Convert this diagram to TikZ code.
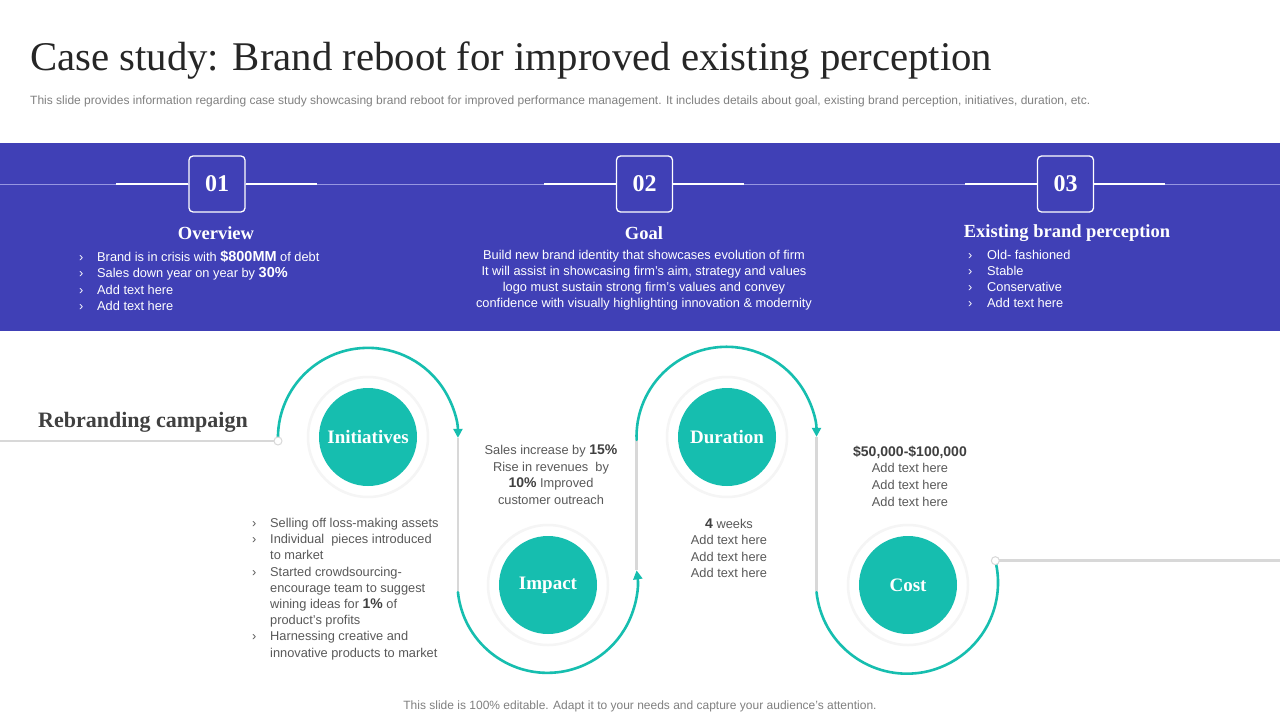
\documentclass[tikz,border=0pt]{standalone}
\usepackage{fontspec}
\setmainfont{Liberation Sans}
\newfontfamily\serifface{Liberation Serif}
\usetikzlibrary{arrows.meta,calc}
\definecolor{band}{RGB}{64,64,182}
\definecolor{tealc}{RGB}{22,190,175}
\definecolor{txt}{RGB}{89,89,89}
\definecolor{darktxt}{RGB}{64,64,64}
\definecolor{titlec}{RGB}{38,38,38}
\definecolor{ringc}{RGB}{245,245,245}
\definecolor{linec}{RGB}{216,216,216}
\definecolor{lav}{RGB}{150,150,225}
\definecolor{subgray}{RGB}{128,128,128}
\newcommand\myfs[1]{\fontsize{#1}{#1}\selectfont}
\tikzset{
  ln/.style={anchor=base west, inner sep=0, font=\myfs{12.8}},
  lnc/.style={anchor=base, inner sep=0, font=\myfs{12.8}},
  numbox/.style={draw=white, line width=1.3, rounded corners=4, fill=band, minimum size=56, inner sep=0, text=white, font=\serifface\bfseries\myfs{24}},
  head/.style={inner sep=0, text=white, font=\serifface\bfseries\myfs{18.5}},
  ring/.style={circle, draw=ringc, line width=2.5, minimum size=120, inner sep=0},
  disc/.style={circle, fill=tealc, minimum size=98, inner sep=0, text=white, font=\serifface\bfseries\myfs{19}},
  arcline/.style={draw=tealc, line width=2.6, line cap=round},
  arcarrow/.style={arcline, -{Triangle[length=9,width=9]}},
  gline/.style={draw=linec, line width=2.6},
  enddot/.style={circle, draw=linec, fill=white, line width=1, minimum size=8, inner sep=0},
}
\begin{document}
\begin{tikzpicture}[x=1pt,y=-1pt]
\useasboundingbox (0,0) rectangle (1280,720);
\fill[white] (0,0) rectangle (1280,720);

% title and subtitle
\node[anchor=base west, inner sep=0, text=titlec] (title) at (30,70)
  {\resizebox{962pt}{!}{\serifface\myfs{40}Case study: Brand reboot for improved existing perception}};
\node[anchor=base west, inner sep=0, text=subgray] (subtitle) at (30,104)
  {\resizebox{1060pt}{!}{\myfs{11}This slide provides information regarding case study showcasing brand reboot for improved performance management. It includes details about goal, existing brand perception, initiatives, duration, etc.}};

% blue band
\fill[band] (0,143) rectangle (1280,331);
\coordinate (bandl) at (0,184); \coordinate (bandr) at (1280,184);
\draw[lav, line width=0.8] (bandl) -- (bandr);

\node[numbox] (b1) at (217,184) {01};
\node[numbox] (b2) at (644.5,184) {02};
\node[numbox] (b3) at (1065.5,184) {03};
\coordinate (w1l) at (116,184); \coordinate (w1r) at (317,184);
\coordinate (w2l) at (544,184); \coordinate (w2r) at (744,184);
\coordinate (w3l) at (965,184); \coordinate (w3r) at (1165,184);
\draw[white, line width=2.5] (w1l) -- (b1.west) (b1.east) -- (w1r);
\draw[white, line width=2.5] (w2l) -- (b2.west) (b2.east) -- (w2r);
\draw[white, line width=2.5] (w3l) -- (b3.west) (b3.east) -- (w3r);

\node[head] (h1) at (216,233) {Overview};
\node[head] (h2) at (644,233) {Goal};
\node[head] (h3) at (1067,233) {Existing brand perception};

\foreach \t [count=\i] in {{Brand is in crisis with \textbf{\myfs{14.5}\$800MM} of debt},{Sales down year on year by \textbf{\myfs{14.5}30\%}},Add text here,Add text here}{
  \node[ln, text=white] (ovb\i) at (79,{261+16.6*(\i-1)}) {›};
  \node[ln, text=white] (ov\i) at (97,{261+16.6*(\i-1)}) {\t};
}
\foreach \t [count=\i] in {Build new brand identity that showcases evolution of firm,{It will assist in showcasing firm’s aim, strategy and values},logo must sustain strong firm’s values and convey,confidence with visually highlighting innovation \& modernity}{
  \node[lnc, text=white] (go\i) at (644,{259.5+16*(\i-1)}) {\t};
}
\foreach \t [count=\i] in {Old- fashioned,Stable,Conservative,Add text here}{
  \node[ln, text=white] (exb\i) at (968,{259.5+16*(\i-1)}) {›};
  \node[ln, text=white] (ex\i) at (987,{259.5+16*(\i-1)}) {\t};
}

% rebranding campaign
\node[inner sep=0, text=darktxt, font=\serifface\bfseries\myfs{22}] (rb) at (143,422) {Rebranding campaign};

% wave geometry
\coordinate (d1) at (278,441);
\path (d1) arc[start angle=178, end angle=360, radius=90] coordinate (e1);
\path (e1) ++(0,154.4) coordinate (s2);
\path (s2) arc[start angle=174, end angle=-8, radius=90] coordinate (e2);
\path (e2) ++(0,-130.4) coordinate (s3);
\path (s3) arc[start angle=178, end angle=360, radius=90] coordinate (e3);
\path (e3) ++(0,155.4) coordinate (s4);
\path (s4) arc[start angle=174, end angle=-14, radius=91] coordinate (e4);
\coordinate (rend) at (1280,562);
\coordinate (lend) at (0,441);

\draw[gline] (lend) -- (d1);
\draw[gline] (e1) -- (s2);
\draw[gline] (e2) -- (s3);
\draw[gline] (e3) -- (s4);
\draw[gline] (e4) -- (e4 -| rend);

\draw[arcarrow] (d1) arc[start angle=178, end angle=360, radius=90];
\draw[arcarrow] (s2) arc[start angle=174, end angle=-8, radius=90];
\draw[arcarrow] (s3) arc[start angle=178, end angle=360, radius=90];
\draw[arcline] (s4) arc[start angle=174, end angle=-14, radius=91];

\node[enddot] (dot1) at (d1) {};
\node[enddot] (dot2) at (e4) {};

% circles
\node[ring] (r1) at (368,437) {};
\node[disc] (ini) at (368,437) {Initiatives};
\node[ring] (r2) at (548,585) {};
\node[disc] (imp) at (548,585) {Impact};
\node[ring] (r3) at (727,437) {};
\node[disc] (dur) at (727,437) {Duration};
\node[ring] (r4) at (908,585) {};
\node[disc] (cost) at (908,585) {Cost};

% initiatives list
\foreach \t [count=\i] in {Selling off loss-making assets,Individual\ \ pieces introduced,to market,Started crowdsourcing-,encourage team to suggest,{wining ideas for \textbf{\color{darktxt}\myfs{14}1\%} of},product’s profits,Harnessing creative and,innovative products to market}{
  \node[ln, text=txt] (il\i) at (270,{527.5+16.2*(\i-1)}) {\t};
}
\foreach \i in {1,2,4,8}{
  \node[ln, text=txt] (ilb\i) at (252,{527.5+16.2*(\i-1)}) {›};
}

% impact text
\foreach \t [count=\i] in {{Sales increase by \textbf{\color{darktxt}\myfs{14}15\%}},Rise in revenues\ \ by,{\textbf{\color{darktxt}\myfs{14}10\%} Improved},customer outreach}{
  \node[lnc, text=txt] (it\i) at (551,{454.5+16.7*(\i-1)}) {\t};
}
% duration text
\foreach \t [count=\i] in {{\textbf{\color{darktxt}\myfs{14}4} weeks},Add text here,Add text here,Add text here}{
  \node[lnc, text=txt] (dt\i) at (729,{528.5+16.4*(\i-1)}) {\t};
}
% cost text
\foreach \t [count=\i] in {{\textbf{\color{darktxt}\myfs{14}\$50,000-\$100,000}},Add text here,Add text here,Add text here}{
  \node[lnc, text=txt] (ct\i) at (910,{456+16.7*(\i-1)}) {\t};
}

% footer
\node[anchor=base, inner sep=0, text=subgray, font=\myfs{12}] (foot) at (640,709.5)
  {This slide is 100\% editable. Adapt it to your needs and capture your audience’s attention.};
\end{tikzpicture}
\end{document}
